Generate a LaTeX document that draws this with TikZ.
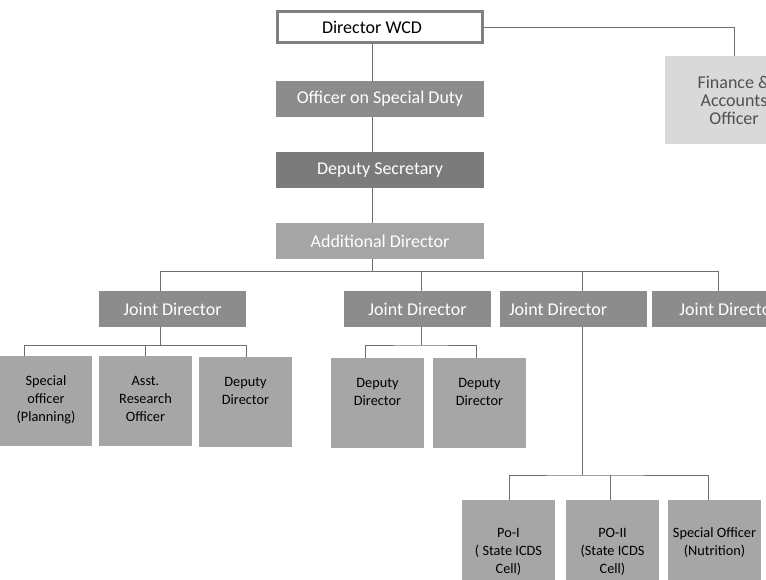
\documentclass[tikz,border=0pt]{standalone}
\usepackage{fontspec}
\setmainfont{Carlito}
\definecolor{lineg}{HTML}{6E6E6E}
\definecolor{frameg}{HTML}{808080}
\definecolor{osdg}{HTML}{8C8C8C}
\definecolor{dsg}{HTML}{7B7B7B}
\definecolor{adg}{HTML}{A5A5A5}
\definecolor{lowg}{HTML}{A6A6A6}
\definecolor{faog}{HTML}{D9D9D9}
\definecolor{faotext}{HTML}{505050}
\begin{document}
\begin{tikzpicture}[
    x=1pt, y=-1pt,
    bigbox/.style={minimum width=208pt, minimum height=36pt, inner sep=0pt,
      text=white, font=\fontsize{18}{18}\selectfont},
    jdbox/.style={bigbox, minimum width=147pt, fill=osdg},
    lowbox/.style={minimum width=93pt, minimum height=90pt, inner sep=0pt, fill=lowg},
    lowtext/.style={anchor=north, yshift=-20pt, inner sep=0pt, align=center,
      font=\fontsize{14.3}{18}\selectfont, text=black},
    link/.style={draw=lineg, line width=0.9pt}
  ]
  \useasboundingbox (0,0) rectangle (766,580);
  % top of the chart
  \node[bigbox, minimum width=205pt, minimum height=31pt, draw=frameg, line width=3pt,
    fill=white, text=black] (dir) at (380,27) {\hspace*{-16pt}Director WCD};
  \node[bigbox, fill=osdg] (osd) at (380,99) {Officer on Special Duty};
  \node[bigbox, fill=dsg] (ds) at (380,170) {Deputy Secretary};
  \node[bigbox, fill=adg] (ad) at (380,241) {Additional Director};
  \node[bigbox, minimum width=138pt, minimum height=88pt, fill=faog, text=faotext,
    align=center] (fao) at (734,100) {Finance \&\\Accounts\\Officer};
  \coordinate (spine) at (372,271);
  \draw[link] (dir.south -| spine) -- (osd.north -| spine);
  \draw[link] (osd.south -| spine) -- (ds.north -| spine);
  \draw[link] (ds.south -| spine) -- (ad.north -| spine);
  \draw[link] (ad.south -| spine) -- (spine);
  \draw[link] (dir.east) -| (fao.north);
  % joint directors
  \node[jdbox] (jd1) at (172.5,309) {Joint Director};
  \node[jdbox] (jd2) at (417.5,309) {Joint Director};
  \node[jdbox] (jd3) at (573.5,309) {\makebox[147pt][l]{\hspace{9pt}Joint Director}};
  \node[jdbox] (jd4) at (725.5,309) {\hspace*{6pt}Joint Director};
  \coordinate (b1) at (160,271);
  \coordinate (b2) at (421,271);
  \coordinate (b3) at (582,271);
  \coordinate (b4) at (718,271);
  \draw[link] (b1) -- (b4);
  \draw[link] (b1) -- (b1 |- jd1.north);
  \draw[link] (b2) -- (b2 |- jd2.north);
  \draw[link] (b3) -- (b3 |- jd3.north);
  \draw[link] (b4) -- (b4 |- jd4.north);
  % under the first joint director
  \node[lowbox, minimum width=92pt, label={[lowtext]north:Special\\officer\\(Planning)}] (sp) at (46,401) {};
  \node[lowbox, label={[lowtext]north:Asst.\\Research\\Officer}] (aro) at (145.5,401) {};
  \node[lowbox, label={[lowtext]north:Deputy\\Director}] (dd1) at (245.5,402) {};
  \coordinate (t1) at (160,345);
  \draw[link] (jd1.south -| t1) -- (t1);
  \draw[link] (sp.north -| 24,0) |- (t1 -| 24,0) -- (t1 -| 246,0) -- (dd1.north -| 246,0);
  \draw[link] (t1 -| 145,0) -- (aro.north -| 145,0);
  % under the second joint director
  \node[lowbox, label={[lowtext]north:Deputy\\Director}] (dd2) at (377.5,403) {};
  \node[lowbox, label={[lowtext]north:Deputy\\Director}] (dd3) at (479.5,403) {};
  \coordinate (t2) at (421,345);
  \draw[link] (jd2.south -| t2) -- (t2);
  \draw[link] (dd2.north -| 365,0) |- (t2) -| (dd3.north -| 476,0);
  % under the third joint director
  \node[lowbox, label={[lowtext, yshift=-8pt]north:Po-I\\( State ICDS\\Cell)}] (po1) at (508.5,545) {};
  \node[lowbox, label={[lowtext, yshift=-8pt]north:PO-II\\(State ICDS\\Cell)}] (po2) at (612.5,545) {};
  \node[lowbox, label={[lowtext, yshift=-8pt]north:Special Officer\\(Nutrition)}] (son) at (714.5,545) {};
  \coordinate (t3) at (582,475);
  \draw[link] (jd3.south -| t3) -- (t3);
  \draw[link] (po1.north -| 509,0) |- (t3) -| (son.north -| 708,0);
  \draw[link] (t3 -| 610,0) -- (po2.north -| 610,0);
\end{tikzpicture}
\end{document}
